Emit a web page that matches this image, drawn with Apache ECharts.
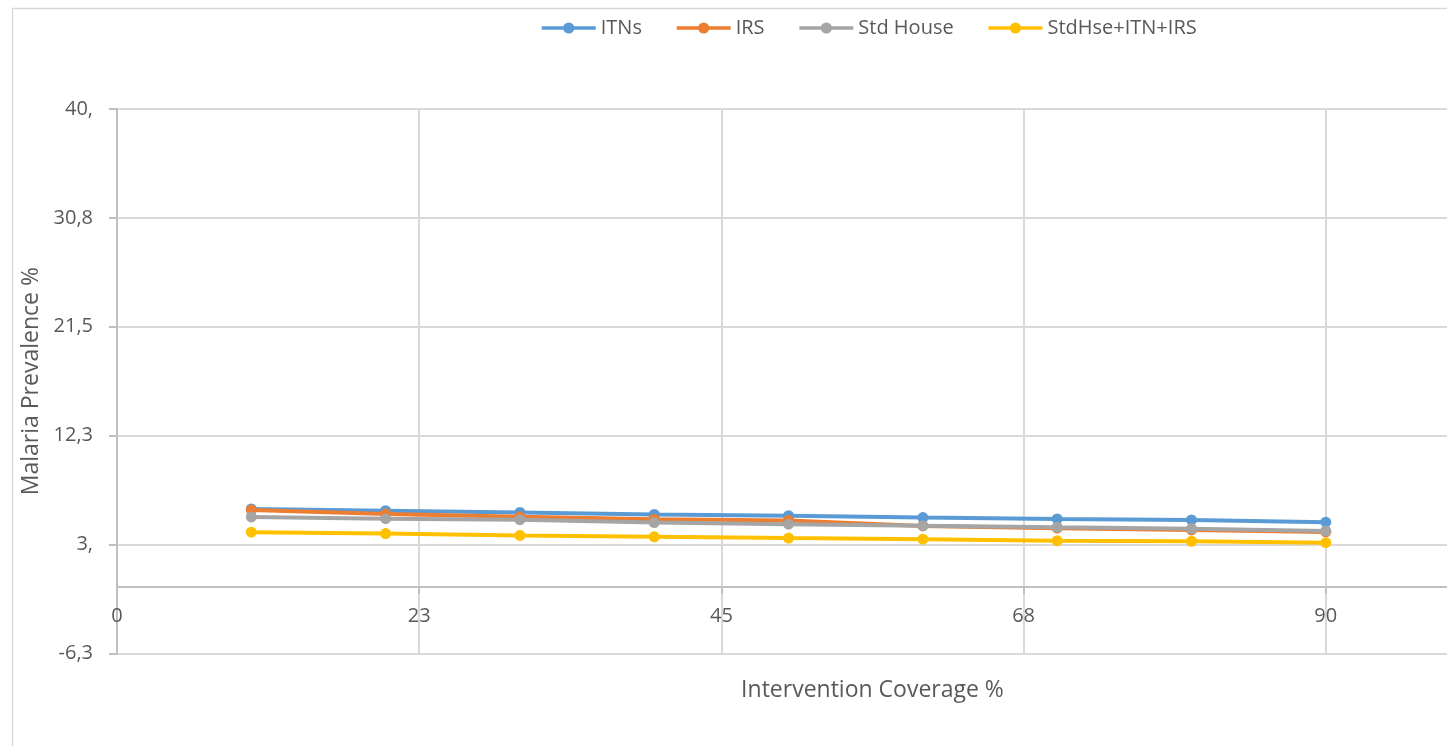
<!DOCTYPE html>
<html>
<head>
<meta charset="utf-8">
<script src="https://cdn.jsdelivr.net/npm/echarts@6/dist/echarts.min.js"></script>
<style>
html,body{margin:0;padding:0;background:#fff;}
#chart{width:1447px;height:746px;}
</style>
</head>
<body>
<div id="chart"></div>
<script>
// ---- data ----
const coverage = [10, 20, 30, 40, 50, 60, 70, 80, 90];
const itns = [6.02, 5.87, 5.72, 5.55, 5.44, 5.28, 5.17, 5.08, 4.89];
const irs = [5.93, 5.59, 5.35, 5.15, 5.04, 4.57, 4.38, 4.23, 4.06];
const stdHouse = [5.34, 5.19, 5.10, 4.86, 4.72, 4.59, 4.46, 4.34, 4.15];
const combined = [4.04, 3.92, 3.77, 3.65, 3.54, 3.45, 3.32, 3.27, 3.15];
const seriesNames = ['ITNs', 'IRS', 'Std House', 'StdHse+ITN+IRS'];
const yTicks = [-6.25, 3, 12.25, 21.5, 30.75, 40];
const yTickLabels = ['-6,3', '3,', '12,3', '21,5', '30,8', '40,'];
const xTicks = [0, 22.5, 45, 67.5, 90, 112.5];
const xTickLabels = ['0', '23', '45', '68', '90', '113'];

const colors = ['#5B9BD5', '#ED7D31', '#A5A5A5', '#FFC000'];
const allValues = [itns, irs, stdHouse, combined];
const FONT = '"Open Sans", "Noto Sans", sans-serif';
const TXT = '#595959';

function pairs(vals) { return coverage.map((x, i) => [x, vals[i]]); }

const chart = echarts.init(document.getElementById('chart'), null, {renderer: 'canvas'});
chart.setOption({
  animation: false,
  backgroundColor: '#fff',
  textStyle: {fontFamily: FONT},
  graphic: [{
    type: 'rect', left: 10, top: 6, silent: true, z: -10,
    shape: {width: 2000, height: 2000},
    style: {fill: 'none', stroke: '#D9D9D9', lineWidth: 1.5}
  }],
  legend: {
    left: 535, top: 13,
    itemWidth: 54, itemHeight: 14, itemGap: 33,
    lineStyle: {width: 3.5},
    textStyle: {fontFamily: FONT, fontSize: 20, color: TXT},
    data: seriesNames
  },
  grid: {left: 117, top: 109, right: -181, bottom: 92.7, containLabel: false, outerBoundsMode: 'none'},
  xAxis: {
    type: 'value', min: 0, max: 112.5, interval: 22.5,
    offset: -66.6,
    name: 'Intervention Coverage %', nameLocation: 'middle', nameGap: 92,
    nameTextStyle: {fontFamily: FONT, fontSize: 23, color: TXT},
    axisLine: {show: true, onZero: false, lineStyle: {color: '#BFBFBF', width: 2}},
    axisTick: {show: true, length: 7, lineStyle: {color: '#BFBFBF', width: 2}},
    axisLabel: {margin: 20, fontFamily: FONT, fontSize: 20, color: TXT,
      formatter: v => { const i = xTicks.indexOf(v); return i >= 0 ? xTickLabels[i] : ''; }},
    splitLine: {show: true, lineStyle: {color: '#D9D9D9', width: 2}}
  },
  yAxis: {
    type: 'value', min: -6.25, max: 40,
    name: 'Malaria Prevalence %', nameLocation: 'middle', nameGap: 72,
    nameTextStyle: {fontFamily: FONT, fontSize: 23, color: TXT},
    axisLine: {show: true, onZero: false, lineStyle: {color: '#BFBFBF', width: 2}},
    axisTick: {show: true, length: 8, customValues: yTicks, lineStyle: {color: '#BFBFBF', width: 2}},
    axisLabel: {margin: 24, fontFamily: FONT, fontSize: 20, color: TXT, customValues: yTicks,
      formatter: v => { const i = yTicks.indexOf(v); return i >= 0 ? yTickLabels[i] : ''; }},
    splitLine: {show: true, lineStyle: {color: '#D9D9D9', width: 2}}
  },
  series: seriesNames.map((n, k) => ({
    name: n, type: 'line', data: pairs(allValues[k]),
    symbol: 'circle', symbolSize: 11, showSymbol: true,
    lineStyle: {color: colors[k], width: 4},
    itemStyle: {color: colors[k]},
    z: 2 + k
  }))
});
</script>
</body>
</html>
